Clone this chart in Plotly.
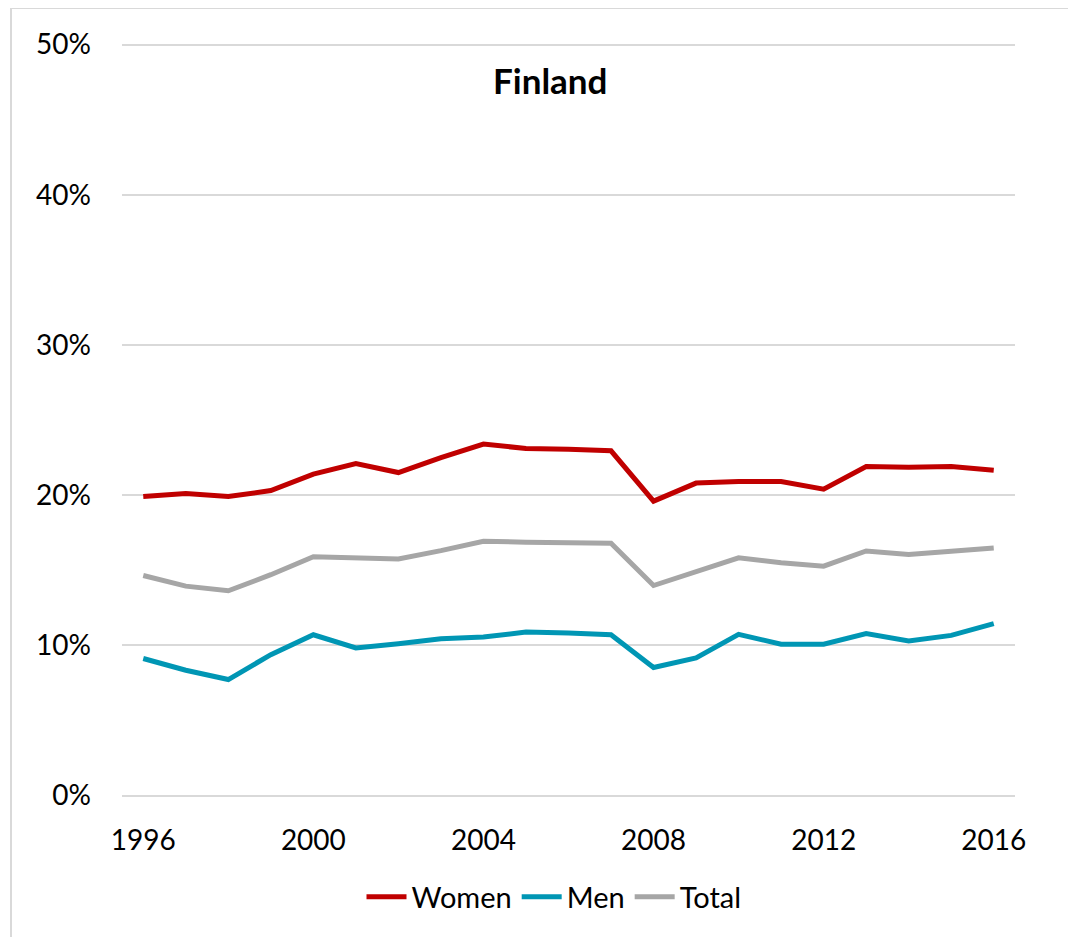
import plotly.graph_objects as go

years = list(range(1996, 2017))
women = [19.9, 20.1, 19.9, 20.3, 21.4, 22.1, 21.5, 22.5, 23.4, 23.1, 23.05,
         22.95, 19.6, 20.8, 20.9, 20.9, 20.4, 21.9, 21.85, 21.9, 21.65]
men = [9.12, 8.34, 7.72, 9.38, 10.7, 9.82, 10.1, 10.44, 10.55, 10.88, 10.82,
       10.7, 8.52, 9.16, 10.73, 10.07, 10.07, 10.78, 10.29, 10.66, 11.44]
total = [14.65, 13.94, 13.63, 14.7, 15.9, 15.8, 15.75, 16.3, 16.93, 16.86, 16.83,
         16.8, 13.98, 14.94, 15.82, 15.5, 15.27, 16.28, 16.04, 16.26, 16.48]

series = [("Women", women, "#C00000"), ("Men", men, "#0096B4"), ("Total", total, "#A6A6A6")]
x_ticks = [1996, 2000, 2004, 2008, 2012, 2016]
y_ticks = [0, 10, 20, 30, 40, 50]
y_labels = [f"{v}%" for v in y_ticks]

FONT = "Lato, 'Open Sans', sans-serif"

fig = go.Figure()
for name, vals, color in series:
    fig.add_trace(go.Scatter(x=years, y=vals, name=name, mode="lines",
                             line=dict(color=color, width=5)))

# page offset (body margin) compensation
OFF = 8
W, H = 1076 - OFF, 937 - OFF
L, R, T, B = 122 - OFF, W - (1015 - OFF), 43 - OFF, H - (797 - OFF)
pw, ph = W - L - R, H - T - B

def px(xp):
    return (xp - OFF - L) / pw

def py(yp):
    return (H - B - (yp - OFF)) / ph

border = dict(color="#D9D9D9", width=2)

fig.update_layout(
    width=W, height=H,
    margin=dict(l=L, r=R, t=T, b=B, autoexpand=False),
    paper_bgcolor="white", plot_bgcolor="white",
    font=dict(family=FONT, size=28, color="#000000"),
    showlegend=True,
    legend=dict(orientation="h", x=px(554), xanchor="center", y=py(897), yanchor="middle",
                font=dict(size=29), itemwidth=40, tracegroupgap=0),
    xaxis=dict(range=[1995.5, 2016.5], tickvals=x_ticks, ticktext=[str(v) for v in x_ticks],
               showgrid=False, zeroline=False, showline=False, ticks="",
               ticklabelstandoff=24, tickfont=dict(size=28)),
    yaxis=dict(range=[-0.1, 50.1], tickvals=y_ticks, ticktext=y_labels,
               showgrid=True, gridcolor="#D9D9D9", gridwidth=1.5,
               zeroline=False, showline=False, ticks="",
               ticklabelstandoff=30, tickfont=dict(size=28)),
    annotations=[dict(text="<b>Finland</b>", x=px(550), y=py(80), xref="paper", yref="paper",
                      showarrow=False, font=dict(size=35, family=FONT), xanchor="center", yanchor="middle")],
    shapes=[
        dict(type="line", xref="paper", yref="paper", x0=px(11), x1=px(1076), y0=py(8), y1=py(8),
             line=border, layer="below"),
        dict(type="line", xref="paper", yref="paper", x0=px(11), x1=px(11), y0=py(8), y1=py(937),
             line=border, layer="below"),
    ],
)

fig.write_html("out.html")
